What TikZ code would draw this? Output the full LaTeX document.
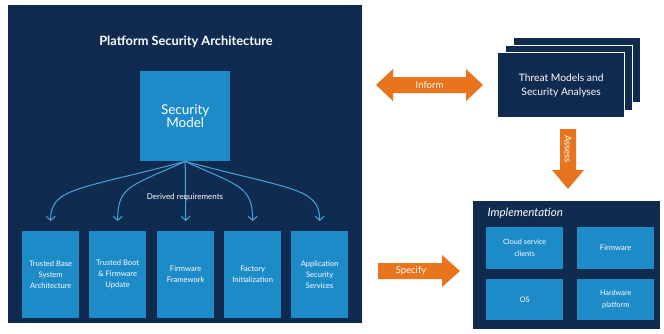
\documentclass[tikz,border=0pt]{standalone}
\usepackage{fontspec}
\setmainfont{Lato}
\usetikzlibrary{arrows.meta}
\definecolor{navy}{HTML}{0F2B50}
\definecolor{lblue}{HTML}{1E8BC9}
\definecolor{orng}{HTML}{E8741E}
\definecolor{curvec}{HTML}{4AA3D9}
\begin{document}
\begin{tikzpicture}[x=1pt,y=1pt,
  panel/.style={fill=navy, draw=none, anchor=north west, inner sep=0pt},
  lbox/.style={fill=lblue, draw=none, anchor=north west, inner sep=0pt, text=white, align=center,
     font=\fontsize{7.6}{11}\selectfont},
  threat/.style={fill=navy, draw=white, line width=1.3pt, anchor=north west, inner sep=0pt,
     minimum width=127pt, minimum height=65pt},
  req/.style={draw=curvec, line width=1pt, -{Straight Barb[length=4pt,width=9pt,line width=1pt]}},
  otext/.style={text=white, font=\fontsize{9.5}{10}\selectfont}
]
\useasboundingbox (0,0) rectangle (664,-333);
\fill[white] (0,0) rectangle (664,-333);

% left panel
\node[panel, minimum width=354pt, minimum height=318pt] (psa) at (8,-5) {};
\node[text=white, font=\fontsize{12.8}{14}\selectfont\bfseries] (title) at (186,-42) {Platform Security Architecture};
\node[lbox, minimum width=90pt, minimum height=90pt, font=\fontsize{13.5}{13.5}\selectfont] (sm) at (140,-71) {Security\\Model};

\node[lbox, minimum width=57pt, minimum height=87pt] (b1) at (22,-231) {Trusted Base\\System\\Architecture};
\node[lbox, minimum width=57pt, minimum height=87pt] (b2) at (89,-231) {Trusted Boot\\\& Firmware\\Update};
\node[lbox, minimum width=57pt, minimum height=87pt] (b3) at (157,-231) {Firmware\\Framework};
\node[lbox, minimum width=57pt, minimum height=87pt] (b4) at (224,-231) {Factory\\Initialization};
\node[lbox, minimum width=57pt, minimum height=87pt] (b5) at (291,-231) {Application\\Security\\Services};

\draw[req] (sm.south) .. controls (77,-190) and (50.5,-188) .. ([yshift=10pt]b1.north);
\draw[req] (sm.south) .. controls (131,-186) and (117.5,-186) .. ([yshift=10pt]b2.north);
\draw[req] (sm.south) -- ([yshift=10pt]b3.north);
\draw[req] (sm.south) .. controls (239,-186) and (252.5,-186) .. ([yshift=10pt]b4.north);
\draw[req] (sm.south) .. controls (293,-190) and (319.5,-188) .. ([yshift=10pt]b5.north);
\node[text=white, font=\fontsize{8}{9}\selectfont] (dr) at (185,-197) {Derived requirements};

% threat models stack
\node[threat] (t3) at (513,-37) {};
\node[threat] (t2) at (505,-44.5) {};
\node[threat, text=white, align=center, font=\fontsize{10.3}{14}\selectfont] (t1) at (497,-52) {Threat Models and\\Security Analyses};

% implementation
\node[panel, minimum width=187pt, minimum height=128pt] (impl) at (473,-201) {};
\node[anchor=west, text=white, font=\fontsize{11.5}{12}\selectfont\itshape] (implt) at (484,-213) {Implementation};
\node[lbox, minimum width=77pt, minimum height=42pt, font=\fontsize{7.3}{12}\selectfont] (cl) at (486,-227) {Cloud service\\clients};
\node[lbox, minimum width=77pt, minimum height=42pt, font=\fontsize{7.6}{12}\selectfont] (fw) at (577,-227) {Firmware};
\node[lbox, minimum width=77pt, minimum height=41pt, font=\fontsize{7.6}{12}\selectfont] (os) at (486,-279) {OS};
\node[lbox, minimum width=77pt, minimum height=41pt, font=\fontsize{7.3}{12}\selectfont] (hw) at (577,-279) {Hardware\\platform};

% orange arrows
\fill[orng] (376,-85) -- (393,-69) -- (393,-77) -- (466,-77) -- (466,-69) -- (483,-85)
  -- (466,-101) -- (466,-93) -- (393,-93) -- (393,-101) -- cycle;
\node[otext] (inform) at (429.5,-85) {Inform};

\fill[orng] (560,-129) -- (576,-129) -- (576,-170) -- (584,-170) -- (568,-189)
  -- (552,-170) -- (560,-170) -- cycle;
\node[otext, rotate=-90] (assess) at (568,-149) {Assess};

\fill[orng] (378,-263) -- (442,-263) -- (442,-255) -- (460,-271) -- (442,-287)
  -- (442,-279) -- (378,-279) -- cycle;
\node[otext] (specify) at (411,-271) {Specify};
\end{tikzpicture}
\end{document}
